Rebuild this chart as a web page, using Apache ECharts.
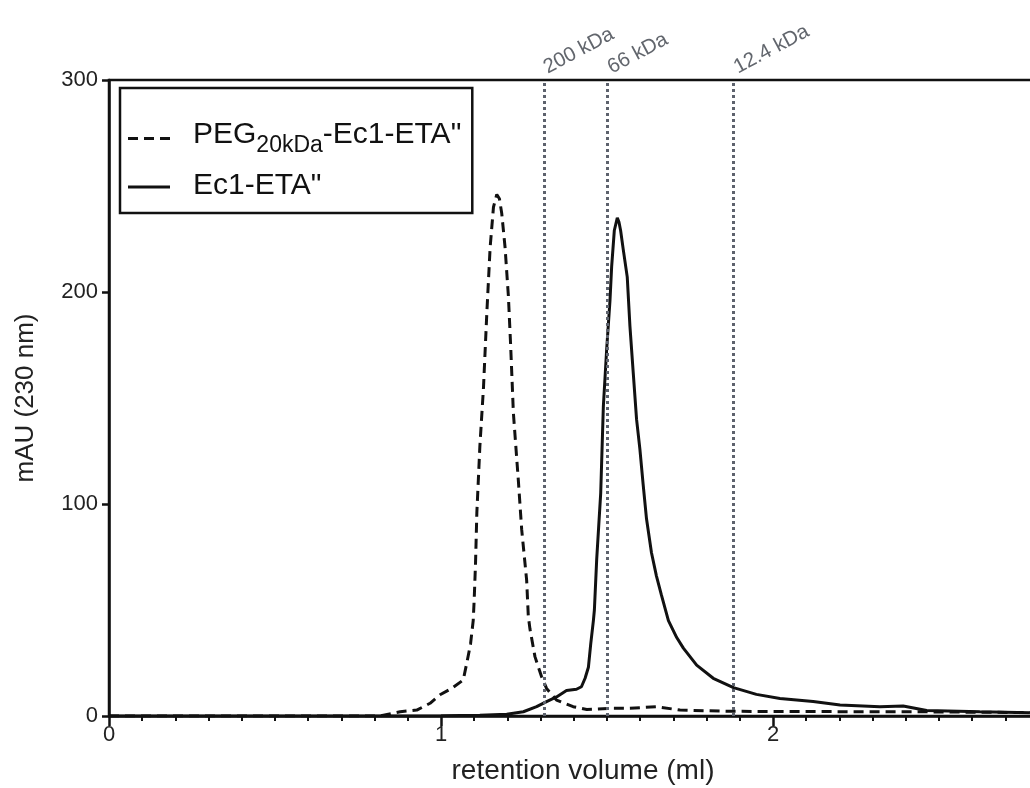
<!DOCTYPE html>
<html>
<head>
<meta charset="utf-8">
<script src="https://cdn.jsdelivr.net/npm/echarts@6/dist/echarts.min.js"></script>
<style>
html,body{margin:0;padding:0;background:#fff;}
#chart{width:1030px;height:788px;}
</style>
</head>
<body>
<div id="chart"></div>
<script>
// ---- Data ----
const pegName = 'PEG20kDa-Ec1-ETA"';
const ecName = 'Ec1-ETA"';
const pegX = [0, 0.6, 0.816, 0.877, 0.927, 0.967, 0.997, 1.032, 1.067, 1.079, 1.089, 1.097, 1.100, 1.104, 1.108, 1.117, 1.128, 1.138, 1.148, 1.158, 1.168, 1.176, 1.183, 1.193, 1.203, 1.210, 1.218, 1.233, 1.243, 1.258, 1.263, 1.268, 1.283, 1.303, 1.318, 1.348, 1.398, 1.439, 1.519, 1.569, 1.649, 1.72, 1.88, 2.32, 2.42, 2.774];
const pegY = [0, 0, 0, 2, 2.8, 6, 10, 13, 17, 26, 34, 45, 55, 72, 96, 127, 155, 190, 221, 240, 246, 244, 237, 221, 198, 174, 143, 111, 88, 64, 47, 41, 28, 18.5, 13, 7.5, 4.4, 3.1, 3.6, 3.6, 4.4, 2.8, 2.2, 2, 2, 1.6];
const ecX = [0, 0.9, 1.0, 1.117, 1.198, 1.248, 1.288, 1.318, 1.348, 1.378, 1.408, 1.423, 1.434, 1.444, 1.451, 1.459, 1.462, 1.469, 1.481, 1.489, 1.499, 1.509, 1.514, 1.522, 1.531, 1.536, 1.541, 1.549, 1.561, 1.569, 1.579, 1.589, 1.599, 1.609, 1.619, 1.634, 1.649, 1.664, 1.685, 1.710, 1.730, 1.770, 1.820, 1.881, 1.950, 2.021, 2.121, 2.202, 2.322, 2.392, 2.463, 2.623, 2.774];
const ecY = [0, 0, 0.1, 0.3, 0.8, 2, 4.4, 6.8, 9, 12, 12.6, 13.8, 17.8, 23, 34, 45, 50, 74, 105, 146, 173, 196, 212, 229, 235, 233, 229, 220, 207, 184, 162, 140, 126, 109, 93, 77, 66, 57, 45, 37, 32, 24, 17.8, 13.4, 10.2, 8.3, 6.8, 5.2, 4.4, 4.7, 2.6, 2.0, 1.5];
const markerNames = ['200 kDa', '66 kDa', '12.4 kDa'];
const markerX = [1.31, 1.503, 1.883];
const yTicks = [0, 100, 200, 300];
const xTicks = [0, 1, 2];

const FONT = '"Liberation Sans", Arial, Helvetica, sans-serif';
const chart = echarts.init(document.getElementById('chart'), null, {renderer: 'canvas'});

const option = {
  animation: false,
  backgroundColor: '#fff',
  textStyle: {fontFamily: FONT},
  grid: {
    left: 109, top: 80, right: -75, bottom: 72,
    show: true, borderColor: '#111', borderWidth: 2.5, backgroundColor: 'transparent',
    outerBoundsMode: 'none', containLabel: false
  },
  legend: {
    orient: 'vertical',
    left: 120, top: 88,
    data: [
      {name: pegName, icon: 'path://M0,0h10v3h-10z M16,0h10v3h-10z M32,0h10v3h-10z'},
      {name: ecName, icon: 'path://M0,0h44v3h-44z'}
    ],
    borderColor: '#111', borderWidth: 2.5, borderRadius: 0,
    padding: [32, 11, 12, 8],
    itemGap: 14,
    itemWidth: 42, itemHeight: 3,
    textStyle: {fontFamily: FONT, fontSize: 30, color: '#111', padding: [0, 0, 0, 18],
      rich: {
        n: {fontFamily: FONT, fontSize: 30, color: '#111', lineHeight: 32, verticalAlign: 'top'},
        s: {fontFamily: FONT, fontSize: 23, color: '#111', lineHeight: 37, verticalAlign: 'bottom'}
      }
    },
    formatter: function (name) {
      if (name === pegName) return '{n|PEG}{s|20kDa}{n|-Ec1-ETA"}';
      return '{n|' + name + '}';
    }
  },
  xAxis: {
    type: 'value', min: 0, max: 3, interval: 1,
    axisLine: {show: true, onZero: false, lineStyle: {color: '#111', width: 2.5}},
    axisTick: {show: true, length: 10, lineStyle: {color: '#111', width: 2.5}},
    minorTick: {show: true, splitNumber: 10, length: 5, lineStyle: {color: '#111', width: 2}},
    splitLine: {show: false},
    minorSplitLine: {show: false},
    axisLabel: {fontFamily: FONT, fontSize: 22, color: '#222', margin: 8,
      formatter: function (v) { return xTicks.indexOf(v) >= 0 ? String(v) : ''; }}
  },
  yAxis: {
    type: 'value', min: 0, max: 300, interval: 100,
    name: 'mAU (230 nm)', nameLocation: 'middle', nameGap: 70,
    nameTextStyle: {fontFamily: FONT, fontSize: 26, color: '#222'},
    axisLine: {show: true, lineStyle: {color: '#111', width: 2.5}},
    axisTick: {show: true, length: 7, lineStyle: {color: '#111', width: 2.5}},
    splitLine: {show: false},
    axisLabel: {fontFamily: FONT, fontSize: 22, color: '#222', margin: 11,
      formatter: function (v) { return yTicks.indexOf(v) >= 0 ? String(v) : ''; }}
  },
  series: [
    {
      name: pegName, type: 'line', showSymbol: false, symbol: 'none',
      data: pegX.map((x, i) => [x, pegY[i]]),
      lineStyle: {color: '#111', width: 3, type: [10, 6]},
      itemStyle: {color: '#111'},
      markLine: {
        silent: true, symbol: ['none', 'none'],
        label: {show: false},
        lineStyle: {color: '#5d626d', width: 3, type: [3, 3]},
        data: markerX.map(v => ({xAxis: v}))
      },
      z: 3
    },
    {
      name: ecName, type: 'line', showSymbol: false, symbol: 'none',
      data: ecX.map((x, i) => [x, ecY[i]]),
      lineStyle: {color: '#111', width: 3, type: 'solid'},
      itemStyle: {color: '#111'},
      z: 4
    }
  ]
};
chart.setOption(option);

// Rotated marker labels and x axis name, placed via the chart's own scales
const gfx = [];
markerX.forEach((v, i) => {
  const px = chart.convertToPixel({xAxisIndex: 0}, v);
  const py = chart.convertToPixel({yAxisIndex: 0}, 300);
  gfx.push({
    type: 'text', x: px + 6, y: py - 2, rotation: 28 * Math.PI / 180,
    style: {text: markerNames[i], fill: '#62666d', font: '20.5px ' + FONT, align: 'left', verticalAlign: 'bottom'},
    z: 10
  });
});
const x0 = chart.convertToPixel({xAxisIndex: 0}, 0);
const y0 = chart.convertToPixel({yAxisIndex: 0}, 0);
gfx.push({
  type: 'text', x: 583, y: y0 + 55,
  style: {text: 'retention volume (ml)', fill: '#222', font: '28px ' + FONT, align: 'center', verticalAlign: 'middle'},
  z: 10
});
chart.setOption({graphic: gfx});
</script>
</body>
</html>
